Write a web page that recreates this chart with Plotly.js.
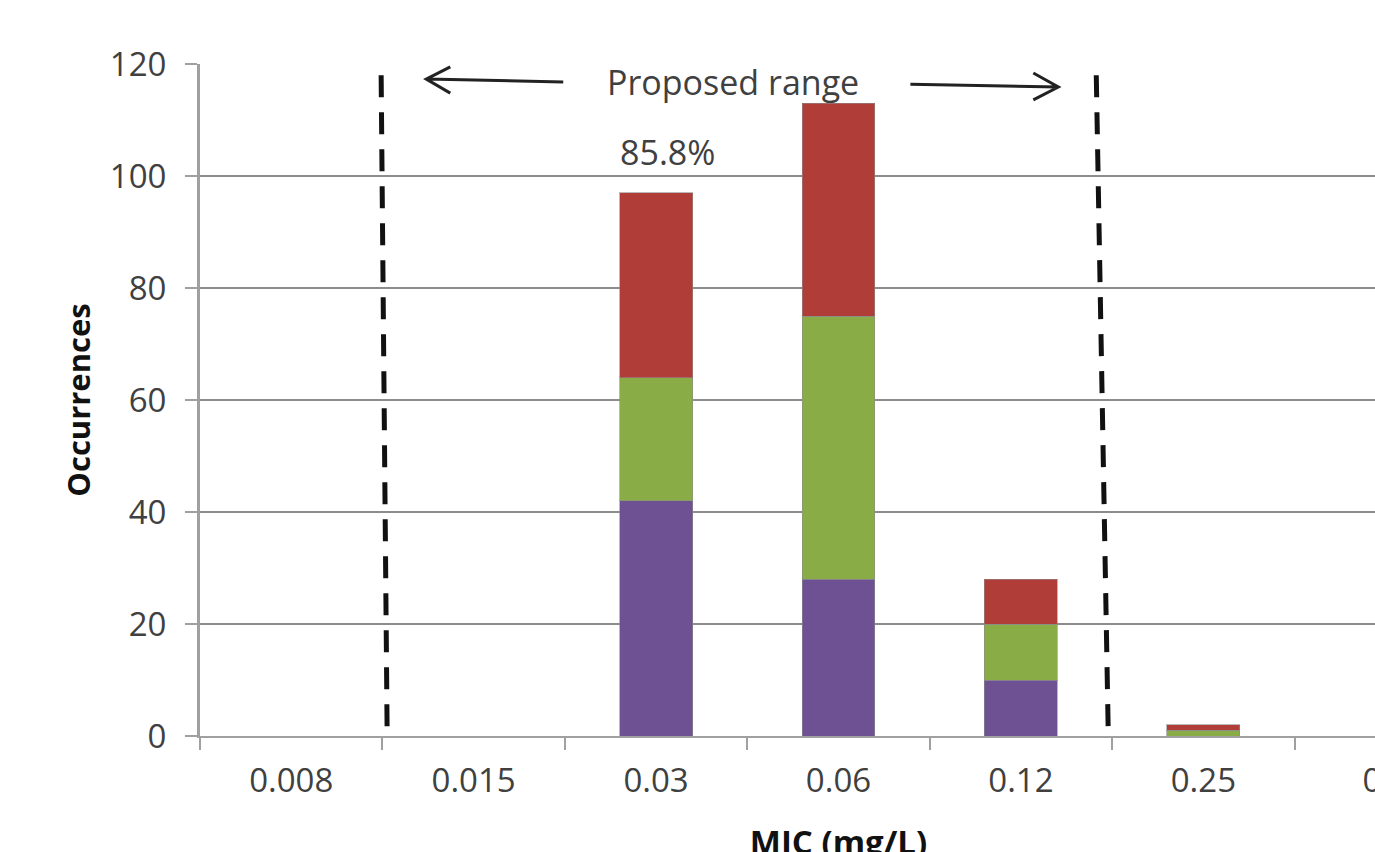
<!DOCTYPE html>
<html>
<head>
<meta charset="utf-8">
<script src="https://cdn.plot.ly/plotly-3.0.1.min.js"></script>
<style>
html, body { margin: 0; padding: 0; overflow: hidden; background: #fff; }
#chart { width: 1497px; height: 900px; }
</style>
</head>
<body>
<div id="chart"></div>
<script>
// Data
var categories = ['0.008', '0.015', '0.03', '0.06', '0.12', '0.25', '0.5'];
var seriesPurple = [0, 0, 42, 28, 10, 0, 0];
var seriesGreen  = [0, 0, 22, 47, 10, 1, 0];
var seriesRed    = [0, 0, 33, 38, 8, 1, 0];

var FONT = 'Open Sans, sans-serif';
var edge = { color: 'rgba(140,140,140,0.6)', width: 1 };

function barTrace(vals, color, name) {
  return {
    type: 'bar', x: categories, y: vals, name: name,
    marker: { color: color, line: edge },
    hoverinfo: 'x+y', showlegend: false
  };
}

var traces = [
  barTrace(seriesPurple, '#6d5192', 'Series 1'),
  barTrace(seriesGreen, '#8aac46', 'Series 2'),
  barTrace(seriesRed, '#b13d39', 'Series 3')
];

var dashLine = { color: '#111', width: 5, dash: '22px,15px' };
var arrowLine = { color: '#222', width: 3 };

var layout = {
  width: 1497, height: 900,
  margin: { l: 200, r: 20, t: 64, b: 164 },
  paper_bgcolor: '#fff', plot_bgcolor: '#fff',
  barmode: 'stack', bargap: 0.6,
  font: { family: FONT, size: 33, color: '#404040' },
  xaxis: {
    type: 'category', range: [-0.5, 6.5],
    tickson: 'boundaries', ticks: 'outside', ticklen: 12, tickwidth: 2, tickcolor: '#a0a0a0',
    ticklabelstandoff: 14,
    showline: true, linecolor: '#a0a0a0', linewidth: 2,
    showgrid: false, zeroline: false,
    tickfont: { family: FONT, size: 33, color: '#404040' },
    title: { text: '<b>MIC (mg/L)</b>', font: { family: FONT, size: 33, color: '#111' }, standoff: 30 }
  },
  yaxis: {
    range: [0, 120], dtick: 20,
    ticks: 'outside', ticklen: 12, tickwidth: 2, tickcolor: '#a0a0a0',
    ticklabelstandoff: 12,
    showline: true, linecolor: '#a0a0a0', linewidth: 3,
    showgrid: true, gridcolor: '#8c8c8c', gridwidth: 2, zeroline: false,
    tickfont: { family: FONT, size: 33, color: '#404040' },
    title: { text: '<b>Occurrences</b>', font: { family: FONT, size: 31, color: '#111' }, standoff: 10 }
  },
  shapes: [
    { type: 'line', xref: 'x', yref: 'y', x0: 0.493, y0: 118.0, x1: 0.526, y1: 0, line: dashLine },
    { type: 'line', xref: 'x', yref: 'y', x0: 4.413, y0: 118.0, x1: 4.479, y1: 0, line: dashLine },
    // left arrow (open head)
    { type: 'path', xref: 'x', yref: 'y', line: arrowLine,
      path: 'M 1.491 116.8 L 0.740 117.3 M 0.872 119.5 L 0.740 117.3 L 0.872 114.8' },
    // right arrow (open head)
    { type: 'path', xref: 'x', yref: 'y', line: arrowLine,
      path: 'M 3.394 116.4 L 4.205 115.9 M 4.068 118.4 L 4.205 115.9 L 4.068 113.6' }
  ],
  annotations: [
    { xref: 'x', yref: 'y', x: 2.423, y: 116.8, text: 'Proposed range', showarrow: false,
      font: { family: FONT, size: 34, color: '#404040' } },
    { xref: 'x', yref: 'y', x: 2.061, y: 104.3, text: '85.8%', showarrow: false,
      font: { family: FONT, size: 34, color: '#404040' } }
  ]
};

Plotly.newPlot('chart', traces, layout, { displayModeBar: false, staticPlot: true });
</script>
</body>
</html>
